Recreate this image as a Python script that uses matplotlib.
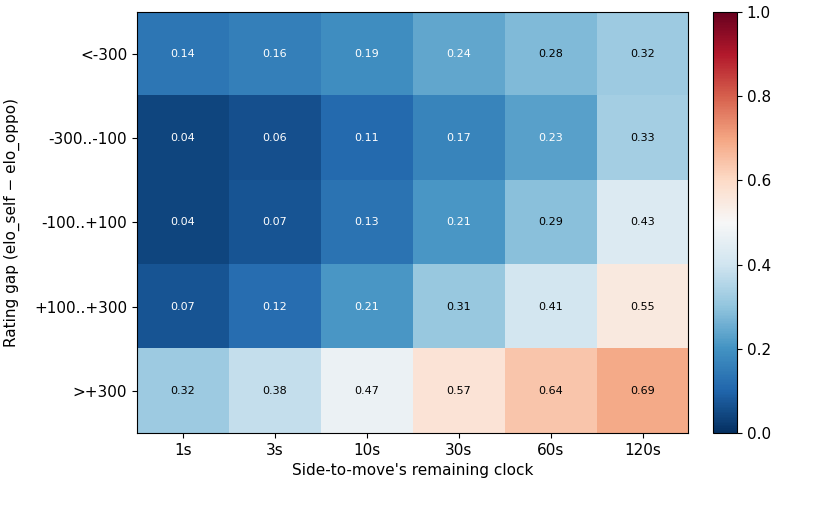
import numpy as np
import matplotlib
matplotlib.use("Agg")
import matplotlib.pyplot as plt

clock_labels = ["1s", "3s", "10s", "30s", "60s", "120s"]
gap_labels = ["<-300", "-300..-100", "-100..+100", "+100..+300", ">+300"]

row_lt300 = [0.14, 0.16, 0.19, 0.24, 0.28, 0.32]
row_300_100 = [0.04, 0.06, 0.11, 0.17, 0.23, 0.33]
row_100_100 = [0.04, 0.07, 0.13, 0.21, 0.29, 0.43]
row_100_300 = [0.07, 0.12, 0.21, 0.31, 0.41, 0.55]
row_gt300 = [0.32, 0.38, 0.47, 0.57, 0.64, 0.69]

values = np.array([row_lt300, row_300_100, row_100_100, row_100_300, row_gt300])

fig = plt.figure(figsize=(8.28, 5.32), dpi=100)
ax = fig.add_axes([0.1655, 0.186, 0.666, 0.792])
cax = fig.add_axes([0.861, 0.186, 0.029, 0.792])

im = ax.imshow(values, cmap="RdBu_r", vmin=0, vmax=1, aspect="auto")

# annotate every cell, white text on the dark ones
for i in range(values.shape[0]):
    for j in range(values.shape[1]):
        v = values[i, j]
        ax.text(j, i, "{:.2f}".format(v), ha="center", va="center",
                fontsize=8, color="white" if v < 0.25 else "black")

ax.set_xticks(range(len(clock_labels)))
ax.set_xticklabels(clock_labels, fontsize=11)
ax.set_yticks(range(len(gap_labels)))
ax.set_yticklabels(gap_labels, fontsize=11)
ax.set_xlabel("Side-to-move's remaining clock", fontsize=11)
ax.set_ylabel("Rating gap (elo_self \u2212 elo_oppo)", fontsize=11,
              labelpad=10)

cb = fig.colorbar(im, cax=cax)
cb.ax.tick_params(labelsize=11)

fig.savefig("out.png", dpi=100)
